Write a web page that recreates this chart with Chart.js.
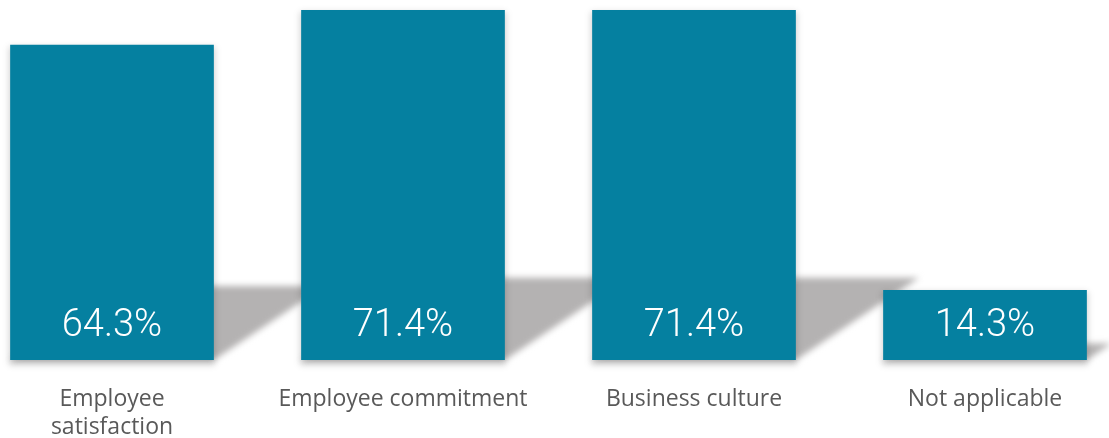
<!DOCTYPE html>
<html>
<head>
<meta charset="utf-8">
<script src="https://cdn.jsdelivr.net/npm/chart.js@4/dist/chart.umd.min.js"></script>
<style>
  html, body { margin: 0; padding: 0; background: #fff; }
  #wrap { width: 1109px; height: 438px; position: relative; }
</style>
</head>
<body>
<div id="wrap"><canvas id="impactChart"></canvas></div>
<script>
const categories = [["Employee", "satisfaction"], "Employee commitment", "Business culture", "Not applicable"];
const shares = [64.3, 71.4, 71.4, 14.3];

const barColor = "#0580a0";

// soft slanted shadow on the floor behind each bar, plus a light drop shadow
const floorShadow = {
  id: "floorShadow",
  beforeDatasetsDraw(chart) {
    const ctx = chart.ctx;
    const meta = chart.getDatasetMeta(0);
    meta.data.forEach(bar => {
      const { x, y, base, width } = bar.getProps(["x", "y", "base", "width"], true);
      const left = x - width / 2;
      const right = x + width / 2;
      const h = base - y;
      const dy = h * 0.235;
      const dx = dy * 1.5;

      ctx.save();
      ctx.filter = "blur(3px)";
      ctx.fillStyle = "#b4b2b2";
      ctx.beginPath();
      ctx.moveTo(left, base);
      ctx.lineTo(right, base);
      ctx.lineTo(right + dx, base - dy);
      ctx.lineTo(left + dx, base - dy);
      ctx.closePath();
      ctx.fill();
      ctx.restore();

      ctx.save();
      ctx.filter = "blur(3px)";
      ctx.fillStyle = "rgba(0,0,0,0.18)";
      ctx.fillRect(left - 1, y + 2, width + 2, h + 3);
      ctx.restore();
    });
  }
};

// percentage written near the foot of each bar
const barValues = {
  id: "barValues",
  afterDatasetsDraw(chart) {
    const ctx = chart.ctx;
    const meta = chart.getDatasetMeta(0);
    ctx.save();
    ctx.font = "300 38px Roboto, 'Open Sans', sans-serif";
    ctx.fillStyle = "#ffffff";
    ctx.textAlign = "center";
    ctx.textBaseline = "middle";
    meta.data.forEach((bar, i) => {
      const { x, base } = bar.getProps(["x", "base"], true);
      ctx.fillText(shares[i].toFixed(1) + "%", x, base - 34);
    });
    ctx.restore();
  }
};

new Chart(document.getElementById("impactChart"), {
  type: "bar",
  data: {
    labels: categories,
    datasets: [{
      data: shares,
      backgroundColor: barColor,
      categoryPercentage: 1,
      barPercentage: 0.7,
      clip: false
    }]
  },
  options: {
    responsive: true,
    maintainAspectRatio: false,
    animation: false,
    layout: { padding: { left: 112, right: 124, top: 10, bottom: 0 } },
    plugins: {
      legend: { display: false },
      tooltip: { enabled: false }
    },
    scales: {
      x: {
        offset: false,
        grid: { display: false, drawTicks: false },
        border: { display: false },
        ticks: {
          padding: 26,
          color: "#595959",
          font: { family: "'Open Sans', 'Liberation Sans', sans-serif", size: 23, lineHeight: 1.2 },
          maxRotation: 0,
          autoSkip: false
        },
        afterFit(scale) { scale.height = 78; }
      },
      y: {
        display: false,
        min: 0,
        max: Math.max(...shares)
      }
    }
  },
  plugins: [floorShadow, barValues]
});
</script>
</body>
</html>
